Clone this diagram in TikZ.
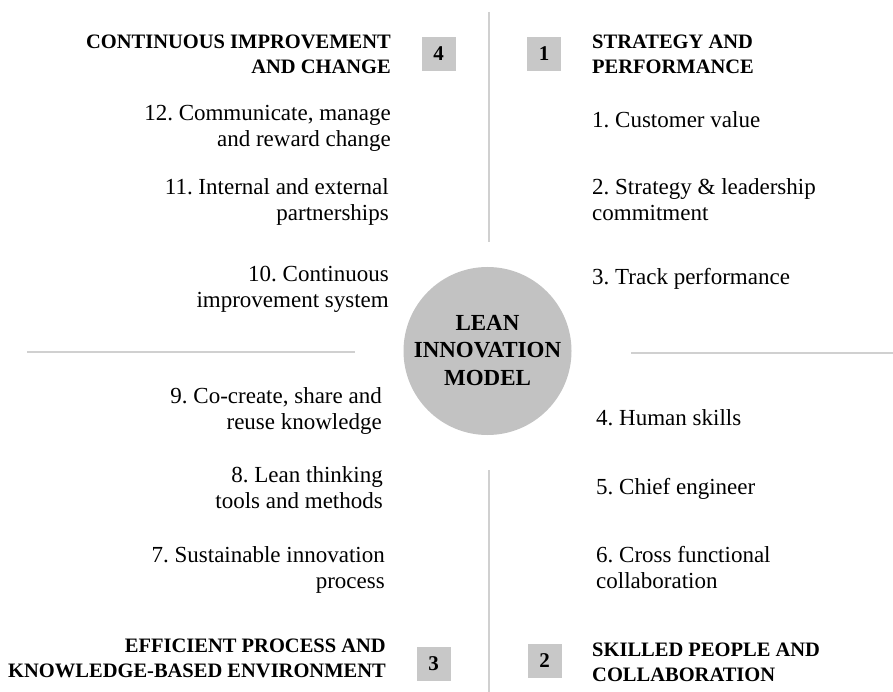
\documentclass[tikz,border=0pt]{standalone}
\usepackage{fontspec}
\setmainfont{Liberation Serif}
\usetikzlibrary{positioning}
\definecolor{linegray}{HTML}{D0D0D0}
\definecolor{circgray}{HTML}{C2C2C2}
\definecolor{boxgray}{HTML}{C8C8C8}
\frenchspacing
\tikzset{
  item/.style={font=\fontsize{23}{26}\selectfont,inner sep=0pt},
  itemleft/.style={item,align=right,anchor=base east},
  itemright/.style={item,align=left,anchor=base west},
  head/.style={inner sep=0pt,font=\fontsize{20.5}{25}\selectfont\bfseries},
  headleft/.style={head,align=right,anchor=base east},
  headright/.style={head,align=left,anchor=base west},
  numbox/.style={fill=boxgray,minimum size=34pt,inner sep=0pt,font=\fontsize{21}{24}\selectfont\bfseries},
  divider/.style={line width=1.6pt,color=linegray}
}
\begin{document}
\begin{tikzpicture}[x=1pt,y=-1pt]
  \useasboundingbox (0,0) rectangle (893,692);
  % dividers
  \draw[divider] (489,12) -- (489,242);
  \draw[divider] (489,470) -- (489,692);
  \draw[divider] (27,352) -- (355,352);
  \draw[divider] (631,353) -- (893,353);

  % centre (base = last line)
  \node[circle,fill=circgray,minimum size=168pt,inner sep=0pt] (model) at (487.5,351) {};
  \node[font=\fontsize{23}{27.5}\selectfont\bfseries,align=center,anchor=base] (modeltext) at (487.5,385)
    {LEAN\\INNOVATION\\MODEL};

  % number boxes
  \node[numbox] (b1) at (544,54) {1};
  \node[numbox] (b2) at (544.5,661) {2};
  \node[numbox] (b3) at (433.5,664) {3};
  \node[numbox] (b4) at (438.5,54) {4};

  % quadrant 1
  \node[headright] (h1) at (592,74) {STRATEGY AND\\PERFORMANCE};
  \node[itemright] (i1) at (592,128) {1. Customer value};
  \node[itemright] (i2) at (592,221) {2. Strategy \& leadership\\commitment};
  \node[itemright] (i3) at (592,285) {3. Track performance};

  % quadrant 2
  \node[itemright] (i4) at (596,425) {4. Human skills};
  \node[itemright] (i5) at (596,494) {5. Chief engineer};
  \node[itemright] (i6) at (596,588) {6. Cross functional\\collaboration};
  \node[headright] (h2) at (592,681) {SKILLED PEOPLE AND\\COLLABORATION};

  % quadrant 3
  \node[itemleft] (i9) at (382,429) {9. Co-create, share and\\reuse knowledge};
  \node[itemleft] (i8) at (383,508) {8. Lean thinking\\tools and methods};
  \node[itemleft] (i7) at (385,588) {7. Sustainable innovation\\process};
  \node[headleft] (h3) at (386,677) {EFFICIENT PROCESS AND\\KNOWLEDGE-BASED ENVIRONMENT};

  % quadrant 4
  \node[headleft] (h4) at (391,74) {CONTINUOUS IMPROVEMENT\\AND CHANGE};
  \node[itemleft] (i12) at (391,147) {12. Communicate, manage\\and reward change};
  \node[itemleft] (i11) at (389,221) {11. Internal and external\\partnerships};
  \node[itemleft] (i10) at (389,308) {10. Continuous\\improvement system};
\end{tikzpicture}
\end{document}
